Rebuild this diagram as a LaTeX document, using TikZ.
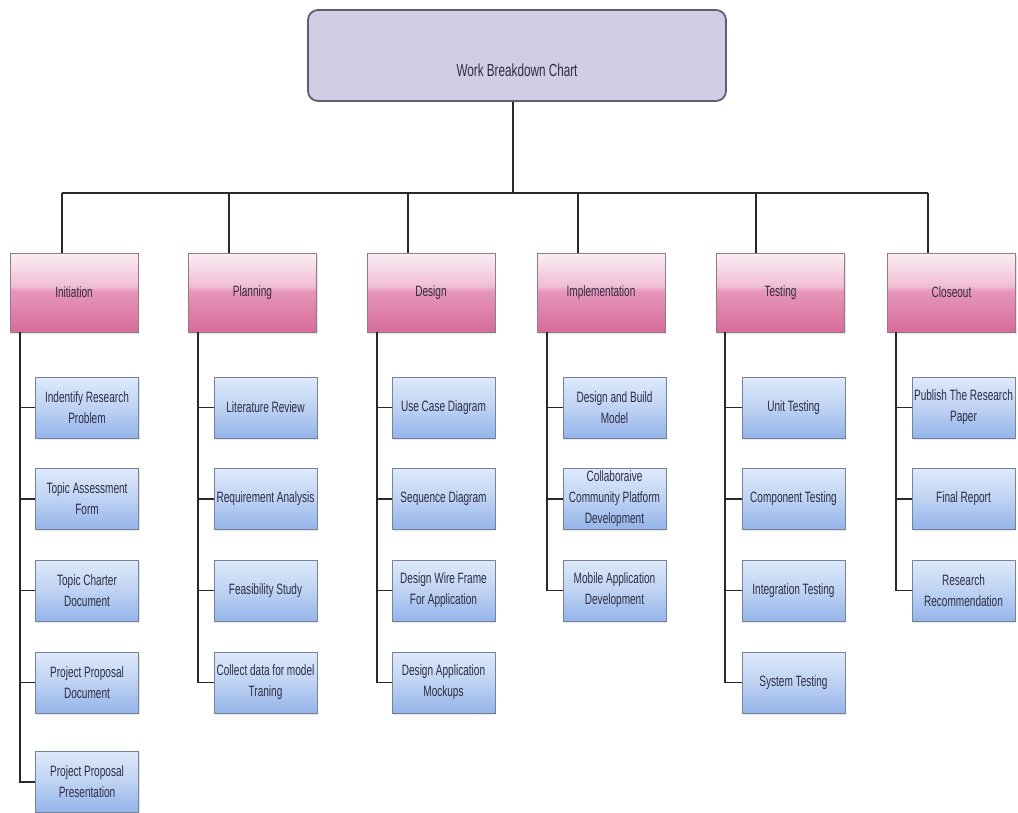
\documentclass[tikz,border=0pt]{standalone}
\usepackage{fontspec}
\setmainfont{Liberation Sans}[FakeStretch=0.67]
\usetikzlibrary{shadows}

\definecolor{inkc}{RGB}{45,45,65}
\definecolor{linec}{RGB}{40,40,40}
\definecolor{titlefill}{RGB}{208,205,228}
\definecolor{titleedge}{RGB}{95,95,110}
\definecolor{pinkTop}{RGB}{251,238,245}
\definecolor{pinkHi}{RGB}{240,190,212}
\definecolor{pinkLo}{RGB}{230,150,186}
\definecolor{pinkBot}{RGB}{214,108,154}
\definecolor{pinkedge}{RGB}{150,120,140}
\definecolor{blueTop}{RGB}{222,234,251}
\definecolor{blueMid}{RGB}{190,210,243}
\definecolor{blueBot}{RGB}{148,180,234}
\definecolor{blueedge}{RGB}{120,130,150}

% box occupies 25bp..75bp of the shading
\pgfdeclareverticalshading{phaseshade}{100bp}{%
  color(0bp)=(pinkBot); color(25bp)=(pinkBot); color(51bp)=(pinkLo);
  color(54bp)=(pinkHi); color(75bp)=(pinkTop); color(100bp)=(pinkTop)}
\pgfdeclareverticalshading{taskshade}{100bp}{%
  color(0bp)=(blueBot); color(25bp)=(blueBot); color(50bp)=(blueMid);
  color(75bp)=(blueTop); color(100bp)=(blueTop)}

\tikzset{
  txt/.style={text=inkc, font=\fontsize{15}{21}\selectfont, align=center, inner sep=0pt},
  titlebox/.style={txt, draw=titleedge, fill=titlefill, line width=1.8pt,
    rounded corners=10pt, minimum width=418pt, minimum height=91pt,
    font=\fontsize{17.5}{21}\selectfont, text height=42pt, text depth=0pt},
  phase/.style={txt, shading=phaseshade, draw=pinkedge, line width=0.8pt,
    minimum width=128pt, minimum height=79pt,
    drop shadow={shadow xshift=1.2pt, shadow yshift=-1.5pt, opacity=0.2}},
  task/.style={txt, shading=taskshade, draw=blueedge, line width=0.8pt,
    minimum width=103pt, minimum height=61pt,
    drop shadow={shadow xshift=1.2pt, shadow yshift=-1.5pt, opacity=0.2}},
  link/.style={draw=linec, line width=1.8pt},
}

\begin{document}
\begin{tikzpicture}[x=1pt, y=-1pt]
\useasboundingbox[fill=white] (0,0) rectangle (1018,812);

% root
\node[titlebox] (wbc) at (517,55.5) {Work Breakdown Chart};

% phases
\node[phase] (ini) at (74,292.5)    {Initiation};
\node[phase] (pla) at (252.5,292.5) {Planning};
\node[phase] (des) at (431,292.5)   {Design};
\node[phase] (imp) at (601,292.5)   {Implementation};
\node[phase] (tes) at (780.5,292.5) {Testing};
\node[phase] (clo) at (951.5,292.5) {Closeout};

% Initiation tasks
\node[task] (i1) at (87,407.5) {Indentify Research\\Problem};
\node[task] (i2) at (87,499)   {Topic Assessment\\Form};
\node[task] (i3) at (87,590.5) {Topic Charter\\Document};
\node[task] (i4) at (87,682.5) {Project Proposal\\Document};
\node[task] (i5) at (87,782)   {Project Proposal\\Presentation};

% Planning tasks
\node[task] (p1) at (265.5,407.5) {Literature Review};
\node[task] (p2) at (265.5,499)   {Requirement Analysis};
\node[task] (p3) at (265.5,590.5) {Feasibility Study};
\node[task] (p4) at (265.5,682.5) {Collect data for model\\Traning};

% Design tasks
\node[task] (d1) at (443.5,407.5) {Use Case Diagram};
\node[task] (d2) at (443.5,499)   {Sequence Diagram};
\node[task] (d3) at (443.5,590.5) {Design Wire Frame\\For Application};
\node[task] (d4) at (443.5,682.5) {Design Application\\Mockups};

% Implementation tasks
\node[task] (m1) at (614.5,407.5) {Design and Build\\Model};
\node[task] (m2) at (614.5,499)   {Collaboraive\\Community Platform\\Development};
\node[task] (m3) at (614.5,590.5) {Mobile Application\\Development};

% Testing tasks
\node[task] (t1) at (793.5,407.5) {Unit Testing};
\node[task] (t2) at (793.5,499)   {Component Testing};
\node[task] (t3) at (793.5,590.5) {Integration Testing};
\node[task] (t4) at (793.5,682.5) {System Testing};

% Closeout tasks
\node[task] (c1) at (963.5,407.5) {Publish The Research\\Paper};
\node[task] (c2) at (963.5,499)   {Final Report};
\node[task] (c3) at (963.5,590.5) {Research\\Recommendation};

% branch bar and drops to the phases
\coordinate (stem) at (513,193);
\coordinate (dI) at (62,193);
\coordinate (dP) at (229,193);
\coordinate (dD) at (408,193);
\coordinate (dM) at (578,193);
\coordinate (dT) at (756,193);
\coordinate (dC) at (928,193);
\draw[link] (wbc.south -| stem) -- (stem);
\draw[link] (dI) -- (dC);
\foreach \d/\p in {dI/ini, dP/pla, dD/des, dM/imp, dT/tes, dC/clo}
  \draw[link] (\d) -- (\d |- \p.north);

% spines under each phase
\coordinate (sI) at (20,0);
\coordinate (sP) at (198,0);
\coordinate (sD) at (377,0);
\coordinate (sM) at (547,0);
\coordinate (sT) at (725,0);
\coordinate (sC) at (896,0);
\draw[link] (sI |- ini.south) |- (i5.west);
\draw[link] (sP |- pla.south) |- (p4.west);
\draw[link] (sD |- des.south) |- (d4.west);
\draw[link] (sM |- imp.south) |- (m3.west);
\draw[link] (sT |- tes.south) |- (t4.west);
\draw[link] (sC |- clo.south) |- (c3.west);
\foreach \s/\t in {sI/i1, sI/i2, sI/i3, sI/i4, sP/p1, sP/p2, sP/p3,
                   sD/d1, sD/d2, sD/d3, sM/m1, sM/m2, sT/t1, sT/t2, sT/t3,
                   sC/c1, sC/c2}
  \draw[link] (\s |- \t.west) -- (\t.west);
\end{tikzpicture}
\end{document}
